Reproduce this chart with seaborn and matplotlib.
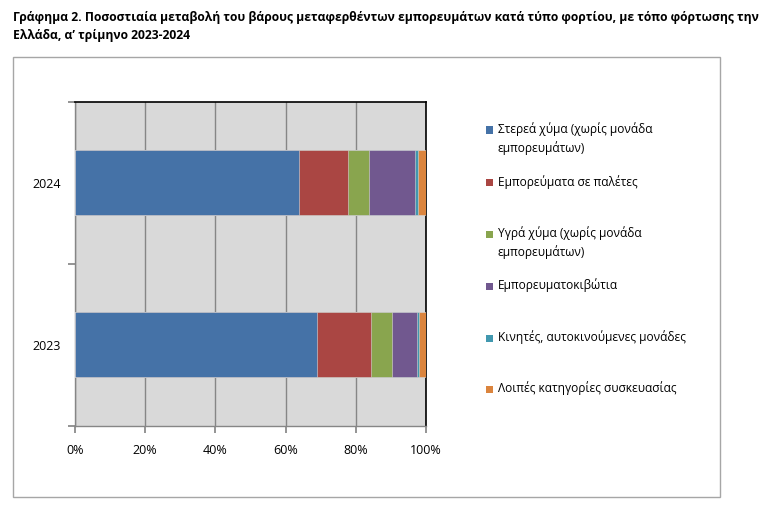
import numpy as np
import pandas as pd
import seaborn as sns
import matplotlib.pyplot as plt
import matplotlib.patches as mpatches
from matplotlib.ticker import PercentFormatter

years = ["2024", "2023"]
categories = [
    "Στερεά χύμα (χωρίς μονάδα\nεμπορευμάτων)",
    "Εμπορεύματα σε παλέτες",
    "Υγρά χύμα (χωρίς μονάδα\nεμπορευμάτων)",
    "Εμπορευματοκιβώτια",
    "Κινητές, αυτοκινούμενες μονάδες",
    "Λοιπές κατηγορίες συσκευασίας",
]
share_2024 = [63.8, 13.9, 6.1, 13.1, 0.7, 2.4]
share_2023 = [69.0, 15.2, 6.1, 7.1, 0.5, 2.1]
colors = ["#4572A7", "#AA4643", "#89A54E", "#71588F", "#4198AF", "#DB843D"]

title = ("Γράφημα 2. Ποσοστιαία μεταβολή του βάρους μεταφερθέντων εμπορευμάτων κατά τύπο φορτίου, με τόπο φόρτωσης την\n"
         "Ελλάδα, α’ τρίμηνο 2023-2024")

sns.set_theme(style="white")
plt.rcParams["font.family"] = ["Open Sans", "DejaVu Sans"]
plt.rcParams["text.color"] = "black"
plt.rcParams["xtick.labelcolor"] = "black"
plt.rcParams["ytick.labelcolor"] = "black"

df = pd.DataFrame({"2024": share_2024, "2023": share_2023}, index=categories)
cum = df.cumsum()

fig = plt.figure(figsize=(7.62, 5.27), dpi=100)

# outer chart frame
frame = mpatches.Rectangle((0.0171, 0.0569), 0.928, 0.835, transform=fig.transFigure,
                           facecolor="white", edgecolor="#a6a6a6", linewidth=1.0, zorder=-10)
fig.patches.append(frame)

ax = fig.add_axes([0.098, 0.1917, 0.4614, 0.6153])
ax.set_facecolor("#d9d9d9")

# stacked bars: draw cumulative totals from the last category back to the first
for i in range(len(categories) - 1, -1, -1):
    long = pd.DataFrame({"year": years, "value": [cum.loc[categories[i], y] for y in years]})
    sns.barplot(data=long, x="value", y="year", order=years, color=colors[i], orient="h",
                width=0.4, saturation=1, ax=ax, edgecolor="#d9d9d9", linewidth=0.4, zorder=3)

ax.set_xlim(0, 100)
ax.set_ylim(1.5, -0.5)
ax.set_xticks(np.arange(0, 101, 20))
ax.xaxis.set_major_formatter(PercentFormatter(decimals=0))
ax.grid(axis="x", color="#868686", linewidth=1.0, zorder=1)
ax.set_axisbelow(True)

ax.set_yticks([-0.5, 0.5, 1.5])
ax.set_yticklabels([])
ax.set_yticks([0, 1], minor=True)
ax.set_yticklabels(years, minor=True)
ax.tick_params(axis="y", which="major", direction="out", length=5, color="#868686", left=True)
ax.tick_params(axis="y", which="minor", length=0, labelsize=9, pad=10, labelcolor="black")
ax.tick_params(axis="x", direction="out", length=5, color="#868686", bottom=True, labelsize=9, pad=8,
               labelcolor="black")
ax.set_xlabel("")
ax.set_ylabel("")

for side in ["left", "bottom"]:
    ax.spines[side].set_color("#868686")
    ax.spines[side].set_linewidth(1.0)
for side in ["top", "right"]:
    ax.spines[side].set_color("black")
    ax.spines[side].set_linewidth(1.2)

# legend (Excel-style, entries spread down the right side)
legend_y = [130, 183, 234, 286, 338, 389]
for cat, col, ypx in zip(categories, colors, legend_y):
    yf = 1 - ypx / 527
    fig.patches.append(mpatches.Rectangle((486 / 762, yf - 3.5 / 527), 7 / 762, 7 / 527,
                                          transform=fig.transFigure, facecolor=col, edgecolor="none"))
    fig.text(498 / 762, yf + 7.5 / 527, cat, fontsize=8.6, va="top", ha="left", linespacing=1.45,
             color="black", transform=fig.transFigure)

fig.text(13 / 762, 1 - 11 / 527, title, fontsize=8.7, fontweight="bold", va="top", ha="left",
         linespacing=1.55, color="black")

fig.savefig("out.png", dpi=100)
